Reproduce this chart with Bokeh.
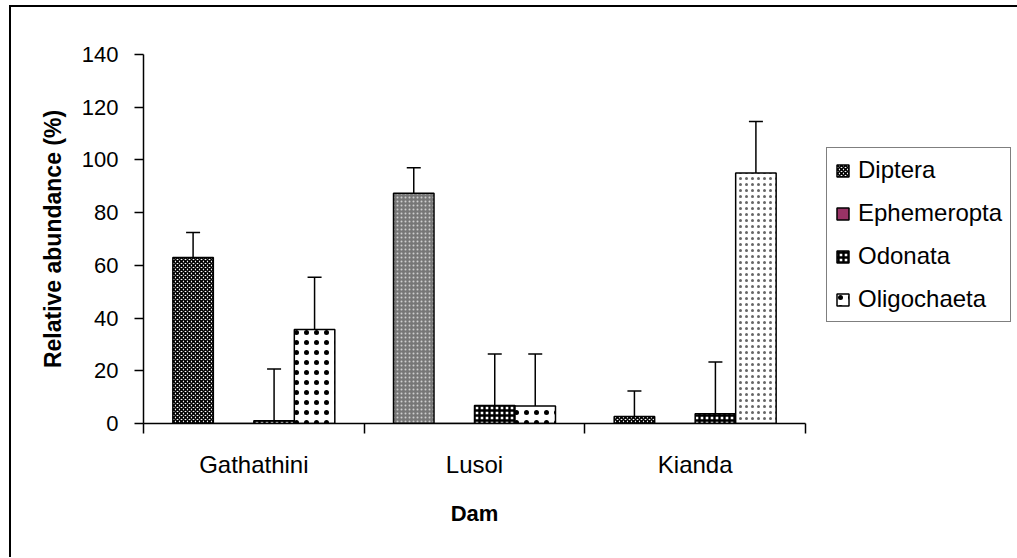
from bokeh.plotting import figure
from bokeh.models import (ColumnDataSource, Range1d, FixedTicker,
                          Whisker, TeeHead, Legend, LegendItem)
from bokeh.embed import file_html
from bokeh.resources import INLINE

# ---------------- data ----------------
dams = ["Gathathini", "Lusoi", "Kianda"]
taxa = ["Diptera", "Ephemeropta", "Odonata", "Oligochaeta"]
diptera = [63.0, 87.4, 2.7]
ephemeropta = [0.0, 0.0, 0.0]
odonata = [1.0, 6.8, 3.7]
oligochaeta = [35.7, 6.6, 95.0]
diptera_err = [9.5, 9.6, 9.6]
ephemeropta_err = [0.0, 0.0, 0.0]
odonata_err = [19.7, 19.6, 19.6]
oligochaeta_err = [19.8, 19.8, 19.6]
y_ticks = [0, 20, 40, 60, 80, 100, 120, 140]

values = {"Diptera": diptera, "Ephemeropta": ephemeropta,
          "Odonata": odonata, "Oligochaeta": oligochaeta}
errors = {"Diptera": diptera_err, "Ephemeropta": ephemeropta_err,
          "Odonata": odonata_err, "Oligochaeta": oligochaeta_err}

# ---------------- styles ----------------
FONT = "Liberation Sans"
styles = {
    "Diptera": dict(fill=["white", "#777777", "white"], hatch=["diagonal_cross", "dot", "diagonal_cross"],
                    hcolor=["black", "#cfcfcf", "black"], hscale=[4, 4, 4], hweight=[1.6, 1.2, 1.6]),
    "Ephemeropta": dict(fill=["#993366"] * 3, hatch=[" "] * 3, hcolor=["black"] * 3,
                        hscale=[4] * 3, hweight=[1] * 3),
    "Odonata": dict(fill=["white"] * 3, hatch=["cross"] * 3, hcolor=["black"] * 3,
                    hscale=[5, 5, 5], hweight=[2.4, 2.4, 2.4]),
    "Oligochaeta": dict(fill=["white", "white", "white"], hatch=["dot", "dot", "dot"],
                        hcolor=["black", "black", "#666666"], hscale=[10, 10, 6], hweight=[0.7, 0.7, 0.9]),
}

n_groups = len(dams)
bar_w = 40.5 / 220.7
centers = [g + 0.5 for g in range(n_groups)]

p = figure(x_range=Range1d(0, n_groups), y_range=Range1d(0, 140),
           frame_width=662, frame_height=369,
           min_border_left=132, min_border_right=211, min_border_top=47, min_border_bottom=134,
           output_backend="svg", toolbar_location=None,
           background_fill_color="white", border_fill_color="white")
p.outline_line_color = None
p.grid.visible = False
p.styles = {"margin-left": "9px", "margin-top": "5px",
            "border-left": "2px solid black", "border-top": "2px solid black"}

# x axis: dam names at group centres, boundary ticks between dams
xaxis = p.xaxis[0]
xaxis.ticker = FixedTicker(ticks=centers, minor_ticks=list(range(n_groups + 1)))
xaxis.major_label_overrides = {c: d for c, d in zip(centers, dams)}
xaxis.axis_line_color = "black"
xaxis.axis_line_width = 1.5
xaxis.major_tick_line_color = None
xaxis.major_tick_out = 0
xaxis.major_tick_in = 0
xaxis.minor_tick_line_color = "black"
xaxis.minor_tick_line_width = 1.5
xaxis.minor_tick_out = 10
xaxis.minor_tick_in = 0
xaxis.major_label_standoff = 17
xaxis.major_label_text_font = FONT
xaxis.major_label_text_font_size = "24px"
xaxis.major_label_text_color = "black"
xaxis.axis_label = "Dam"
xaxis.axis_label_text_font = FONT
xaxis.axis_label_text_font_size = "22px"
xaxis.axis_label_text_font_style = "bold"
xaxis.axis_label_text_color = "black"
xaxis.axis_label_standoff = 20

yaxis = p.yaxis[0]
yaxis.ticker = FixedTicker(ticks=y_ticks)
yaxis.axis_line_color = "black"
yaxis.axis_line_width = 1.5
yaxis.major_tick_line_color = "black"
yaxis.major_tick_line_width = 1.5
yaxis.major_tick_out = 9
yaxis.major_tick_in = 0
yaxis.minor_tick_line_color = None
yaxis.major_label_standoff = 16
yaxis.major_label_text_font = FONT
yaxis.major_label_text_font_size = "22px"
yaxis.major_label_text_color = "black"
yaxis.axis_label = "Relative abundance (%)"
yaxis.axis_label_text_font = FONT
yaxis.axis_label_text_font_size = "23px"
yaxis.axis_label_text_font_style = "bold"
yaxis.axis_label_text_color = "black"
yaxis.axis_label_standoff = 13

items = []
for i, t in enumerate(taxa):
    off = (i - (len(taxa) - 1) / 2) * bar_w
    st = styles[t]
    top = values[t]
    err = errors[t]
    src = ColumnDataSource(dict(x=[c + off for c in centers], dam=dams, top=top,
                                upper=[a + b for a, b in zip(top, err)],
                                fill=st["fill"], hatch=st["hatch"], hcolor=st["hcolor"],
                                hscale=st["hscale"], hweight=st["hweight"]))
    r = p.vbar(x="x", top="top", bottom=0, width=bar_w, source=src,
               fill_color="fill", hatch_pattern="hatch", hatch_color="hcolor",
               hatch_scale="hscale", hatch_weight="hweight",
               line_color="black", line_width=1.5)
    items.append(LegendItem(label=t, renderers=[r]))
    if any(e > 0 for e in err):
        w = Whisker(base="x", upper="upper", lower="top",
                    source=src, dimension="height", line_color="black", line_width=1.5,
                    upper_head=TeeHead(size=14, line_color="black", line_width=1.5),
                    lower_head=None, level="overlay")
        p.add_layout(w)

legend = Legend(items=items, location=(21, 101), orientation="vertical",
                border_line_color="black", border_line_width=1.5,
                background_fill_color="white", background_fill_alpha=1,
                label_text_font=FONT, label_text_font_size="24px", label_text_color="black",
                glyph_width=15, glyph_height=15, label_height=22, spacing=15,
                padding=8, label_standoff=8, margin=0)
p.add_layout(legend, "right")

open("out.html", "w").write(file_html(p, INLINE))
